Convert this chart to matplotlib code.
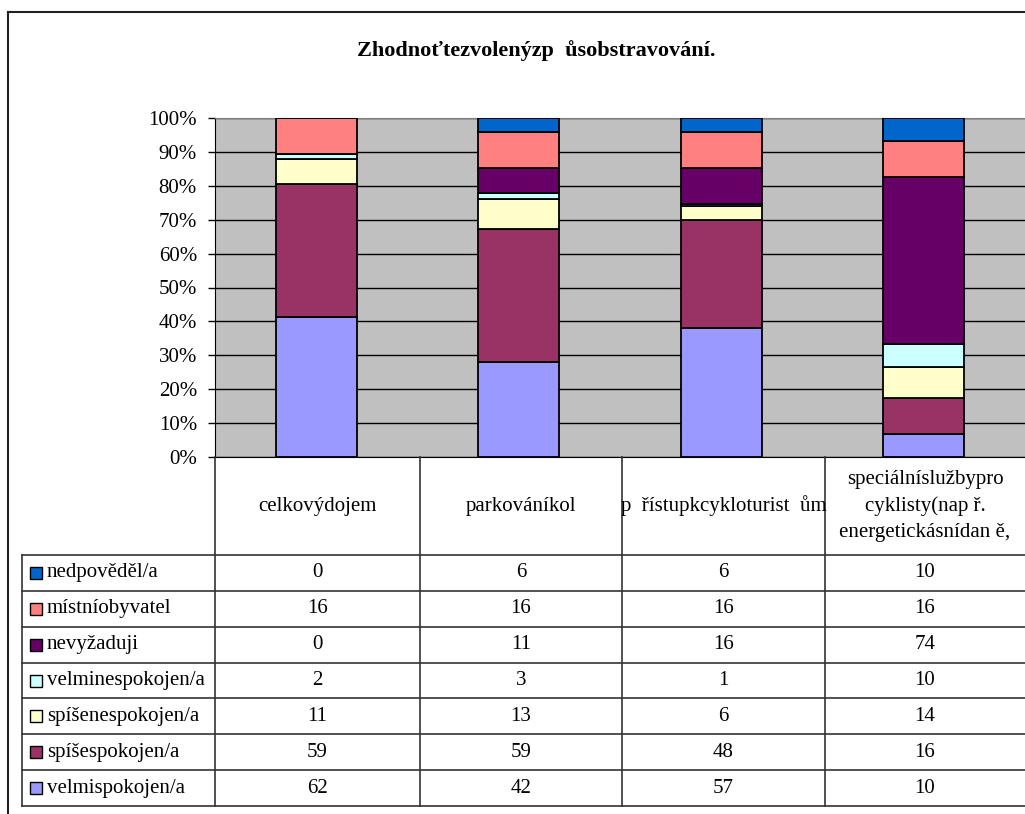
import matplotlib.pyplot as plt
import numpy as np
from matplotlib.lines import Line2D
from matplotlib.patches import Rectangle
from matplotlib import font_manager

W, H = 1025, 814
names = sorted({f.name for f in font_manager.fontManager.ttflist})
serif = [n for n in ['Liberation Serif', 'Times New Roman', 'DejaVu Serif'] if n in names]
plt.rcParams['font.family'] = 'serif'
plt.rcParams['font.serif'] = serif

title = 'Zhodnoťtezvolenýzp  ůsobstravování.'
categories = ['celkovýdojem', 'parkováníkol', 'p  řístupkcykloturist  ům',
              'speciálníslužbypro\ncyklisty(nap ř.\nenergetickásnídan ě,']
series = ['velmispokojen/a', 'spíšespokojen/a', 'spíšenespokojen/a',
          'velminespokojen/a', 'nevyžaduji', 'místníobyvatel', 'nedpověděl/a']
velmi_spokojen = [62, 42, 57, 10]
spise_spokojen = [59, 59, 48, 16]
spise_nespokojen = [11, 13, 6, 14]
velmi_nespokojen = [2, 3, 1, 10]
nevyzaduji = [0, 11, 16, 74]
mistni_obyvatel = [16, 16, 16, 16]
neodpovedel = [0, 6, 6, 10]
colors = ['#9999FF', '#993366', '#FFFFCC', '#CCFFFF', '#660066', '#FF8080', '#0066CC']

values = np.array([velmi_spokojen, spise_spokojen, spise_nespokojen, velmi_nespokojen,
                   nevyzaduji, mistni_obyvatel, neodpovedel], dtype=float)
pct = values / values.sum(axis=0) * 100


def fx(x):
    return x / W


def fy(y):
    return 1 - y / H


fig = plt.figure(figsize=(W / 100, H / 100), dpi=100)

# plot area
ax = fig.add_axes([fx(215), fy(457), fx(1025) - fx(215), fy(118) - fy(457)])
ax.set_facecolor('#C0C0C0')
x = np.arange(len(categories))
bottom = np.zeros(len(categories))
for i in range(len(series)):
    ax.bar(x, pct[i], bottom=bottom, width=0.4, color=colors[i],
           edgecolor='black', linewidth=1.3, zorder=3)
    bottom += pct[i]
ax.set_xlim(-0.5, 3.5)
ax.set_ylim(0, 100)
ax.set_yticks(np.arange(0, 101, 10))
ax.set_yticklabels([f'{v}%' for v in range(0, 101, 10)], fontsize=15)
ax.tick_params(axis='y', direction='out', length=5, width=1, pad=8)
ax.set_xticks([])
ax.yaxis.grid(True, color='black', linewidth=1)
ax.set_axisbelow(True)
ax.spines['right'].set_visible(False)
ax.spines['top'].set_color('#808080')
ax.spines['left'].set_color('black')
ax.spines['bottom'].set_color('black')

fig.text(fx(536), fy(51), title, ha='center', va='center', fontsize=16, fontweight='bold')


def hline(x0, x1, y, **kw):
    fig.add_artist(Line2D([fx(x0), fx(x1)], [fy(y), fy(y)], transform=fig.transFigure, **kw))


def vline(x, y0, y1, **kw):
    fig.add_artist(Line2D([fx(x), fx(x)], [fy(y0), fy(y1)], transform=fig.transFigure, **kw))


# outer frame
hline(8, 1025, 12, color='#222222', lw=1.5)
vline(8, 12, 814, color='#222222', lw=1.5)

# data table
col_x = [215, 420, 622, 825, 1025]
row_top = 555
row_h = (806 - 555) / 7
lc = '#333333'
vline(22, row_top, 806, color=lc, lw=1.2)
for cx in col_x[:-1]:
    vline(cx, 457, 806, color=lc, lw=1.2)
for r in range(8):
    hline(22, 1025, row_top + r * row_h, color=lc, lw=1.2)

for j, cat in enumerate(categories):
    cx = (col_x[j] + col_x[j + 1]) / 2
    fig.text(fx(cx), fy(506), cat, ha='center', va='center', fontsize=15, linespacing=1.5)

for r, i in enumerate(range(len(series) - 1, -1, -1)):
    yc = row_top + (r + 0.5) * row_h
    fig.add_artist(Rectangle((fx(30), fy(yc + 6)), fx(12), 12 / H, transform=fig.transFigure,
                             facecolor=colors[i], edgecolor='black', lw=1))
    fig.text(fx(47), fy(yc), series[i], ha='left', va='center', fontsize=15)
    for j in range(len(categories)):
        cx = (col_x[j] + col_x[j + 1]) / 2
        fig.text(fx(cx), fy(yc), f'{int(values[i][j])}', ha='center', va='center', fontsize=15)

fig.savefig('out.png', dpi=100)
